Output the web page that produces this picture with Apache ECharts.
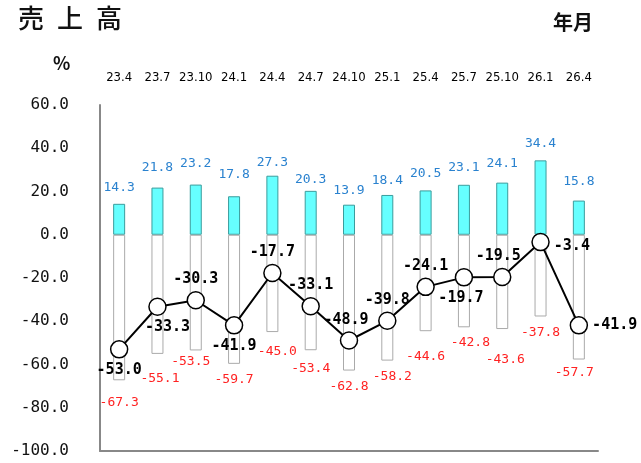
<!DOCTYPE html>
<html>
<head>
<meta charset="utf-8">
<script src="https://cdn.jsdelivr.net/npm/echarts@6/dist/echarts.min.js"></script>
<style>
  html, body { margin: 0; padding: 0; background: #fff; }
  #chart { width: 641px; height: 463px; }
</style>
</head>
<body>
<div id="chart"></div>
<script>
// 調査時期（年.月）
const categories = ['23.4', '23.7', '23.10', '24.1', '24.4', '24.7', '24.10', '25.1', '25.4', '25.7', '25.10', '26.1', '26.4'];
// 増加と回答した割合（%）
const increaseRates = [14.3, 21.8, 23.2, 17.8, 27.3, 20.3, 13.9, 18.4, 20.5, 23.1, 24.1, 34.4, 15.8];
// 減少と回答した割合（%、マイナス表示）
const decreaseRates = [-67.3, -55.1, -53.5, -59.7, -45.0, -53.4, -62.8, -58.2, -44.6, -42.8, -43.6, -37.8, -57.7];
// 増加－減少（DI）
const netRates = [-53.0, -33.3, -30.3, -41.9, -17.7, -33.1, -48.9, -39.8, -24.1, -19.7, -19.5, -3.4, -41.9];

const monoFont = "'DejaVu Sans Mono', 'Liberation Mono', monospace";
const narrowFont = "'Liberation Sans Narrow', 'DejaVu Sans Condensed', 'Liberation Sans', sans-serif";
const jpFont = "'Noto Sans CJK JP', sans-serif";

const fmt = v => (typeof v === 'object' ? v.value : v).toFixed(1);

// ラベルの配置（手動調整分）
const upLabelGap = [9.5, 13.5, 14.5, 15, 6.5, 4.5, 8, 8, 10, 11, 12.5, 10, 12.5];
const downLabelGap = [15.5, 18.5, 5, 9.5, 13.5, 11.5, 10, 10, 18.5, 9, 24.5, 10, 7];
const downLabelDx = [0, 2.5, -5, 0, 5, 0, 0, 5, 0, 6.5, 3, 0, -4.5];
const netLabelSide = ['bottom', 'bottom', 'top', 'bottom', 'top', 'top', 'top', 'top', 'top', 'bottom', 'top', 'right', 'right'];
const netLabelShift = [[0, 0], [10, 0], [0, 0], [0, 0], [0, 0], [0, 0], [-3, 0], [0, 0], [0, 0], [-3, 0], [-4, 0], [0, 4], [0, 0]];

const chart = echarts.init(document.getElementById('chart'), null, { renderer: 'canvas' });

chart.setOption({
  animation: false,
  backgroundColor: '#fff',
  graphic: [
    { type: 'text', left: 18, top: 5, style: { text: '売\u2002上\u2002高', font: '500 26px ' + jpFont, fill: '#111' } },
    { type: 'text', left: 53, top: 54, style: { text: '%', font: 'bold 18px ' + jpFont, fill: '#111' } },
    { type: 'text', left: 553, top: 12, style: { text: '年月', font: 'bold 20px ' + jpFont, fill: '#111' } }
  ],
  grid: { left: 100, right: 43, top: 105, bottom: 12, containLabel: false },
  xAxis: [
    {
      type: 'category',
      data: categories,
      position: 'top',
      axisLine: { show: false },
      axisTick: { show: false },
      splitLine: { show: false },
      axisLabel: { margin: 21, fontSize: 13, fontFamily: narrowFont, color: '#000', interval: 0 }
    },
    {
      type: 'category',
      data: categories,
      position: 'bottom',
      axisLine: { show: true, onZero: true, lineStyle: { color: '#888', width: 2 } },
      axisTick: { show: false },
      axisLabel: { show: false },
      splitLine: { show: false }
    }
  ],
  yAxis: {
    type: 'value',
    min: -100,
    max: 60,
    interval: 20,
    axisLine: { show: true, lineStyle: { color: '#888', width: 2 } },
    axisTick: { show: false },
    splitLine: { show: false },
    axisLabel: { formatter: v => v.toFixed(1), margin: 31, fontSize: 16, fontFamily: monoFont, color: '#111' }
  },
  series: [
    {
      name: '増加',
      type: 'bar',
      data: increaseRates.map((v, i) => ({ value: v, label: { distance: upLabelGap[i] } })),
      barWidth: 12,
      barGap: '-100%',
      itemStyle: { color: '#66ffff', borderColor: '#3a9c9c', borderWidth: 1 },
      label: { show: true, position: 'top', formatter: p => fmt(p.value), color: '#2a82cf', fontSize: 13, fontFamily: monoFont },
      z: 2
    },
    {
      name: '減少',
      type: 'bar',
      data: decreaseRates.map((v, i) => ({ value: v, label: { distance: downLabelGap[i], offset: [downLabelDx[i], 0] } })),
      barWidth: 12,
      itemStyle: { color: '#fff', borderColor: '#aaa', borderWidth: 1 },
      label: { show: true, position: 'bottom', formatter: p => fmt(p.value), color: '#ff2222', fontSize: 13, fontFamily: monoFont },
      z: 2
    },
    {
      name: 'DI',
      type: 'line',
      data: netRates.map((v, i) => ({
        value: v,
        label: { position: netLabelSide[i], offset: netLabelShift[i] }
      })),
      symbol: 'circle',
      symbolSize: 17,
      lineStyle: { color: '#000', width: 2 },
      itemStyle: { color: '#fff', borderColor: '#000', borderWidth: 1.5 },
      label: { show: true, distance: 4, formatter: p => fmt(p.value), color: '#000', fontSize: 15, fontWeight: 'bold', fontFamily: monoFont },
      z: 5
    }
  ]
});
</script>
</body>
</html>
